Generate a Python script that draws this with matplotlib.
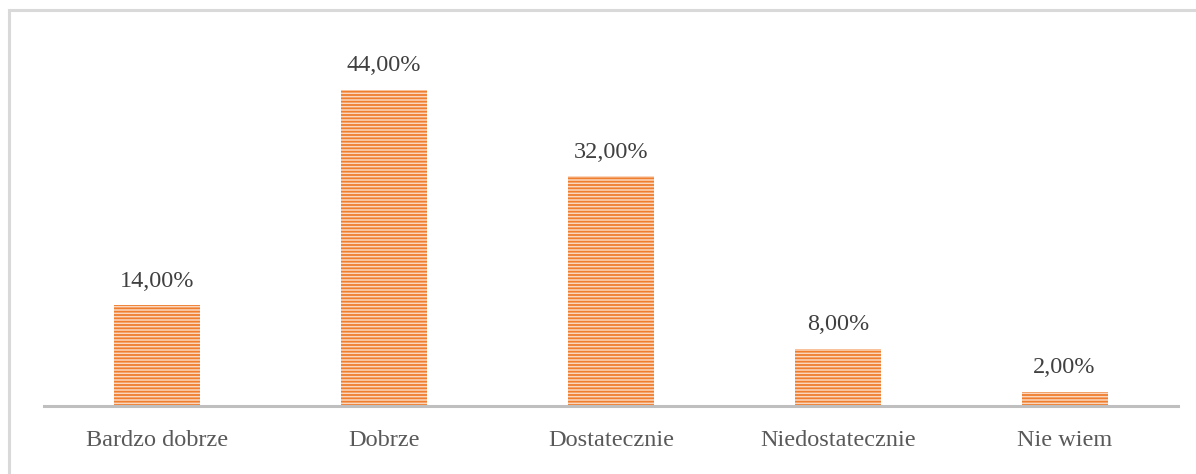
import matplotlib
matplotlib.use("Agg")
from matplotlib import pyplot as plt
from matplotlib.patches import Rectangle

# data
categories = ["Bardzo dobrze", "Dobrze", "Dostatecznie", "Niedostatecznie", "Nie wiem"]
values = [14.0, 44.0, 32.0, 8.0, 2.0]
labels = ["14,00%", "44,00%", "32,00%", "8,00%", "2,00%"]

plt.rcParams["font.family"] = ["Liberation Serif", "DejaVu Serif"]
plt.rcParams["hatch.linewidth"] = 1.3

fig = plt.figure(figsize=(11.96, 4.74), dpi=100)
# light gray frame round the chart
fig.patches.append(Rectangle((8.5 / 1196, -0.05), 1.2, 1.05 - 9.5 / 474,
                             transform=fig.transFigure, fill=False,
                             edgecolor="#D9D9D9", linewidth=2.2))

ax = fig.add_axes([44 / 1196, 1 - 406 / 474, 1134 / 1196, 359 / 474])

x = range(len(categories))
ax.bar(x, values, width=0.38, color="#FAD7BE", edgecolor="#EF7E2F",
       hatch="-----", linewidth=0)

for i, v in enumerate(values):
    ax.text(i, v + 1.9, labels[i], ha="center", va="bottom",
            fontsize=17.5, color="#404040")

ax.set_xlim(-0.5, len(categories) - 0.5)
ax.set_ylim(0, 50)
ax.set_xticks(list(x))
ax.set_xticklabels(categories, fontsize=17.5, color="#595959")
ax.tick_params(axis="x", length=0, pad=17)
ax.set_yticks([])
for s in ["top", "right", "left"]:
    ax.spines[s].set_visible(False)
ax.spines["bottom"].set_color("#BFBFBF")
ax.spines["bottom"].set_linewidth(2.2)

fig.savefig("out.png", dpi=100)
